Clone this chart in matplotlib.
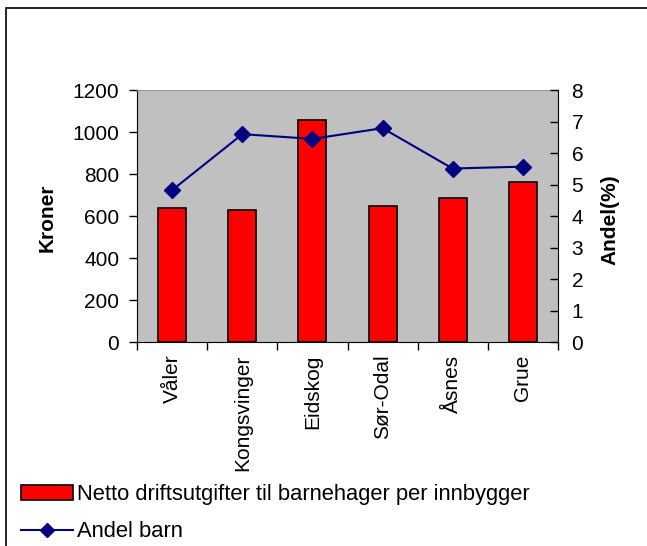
import matplotlib
matplotlib.use("Agg")
import matplotlib.pyplot as plt
from matplotlib.patches import Rectangle
from matplotlib.lines import Line2D
import numpy as np

categories = ["Våler", "Kongsvinger", "Eidskog", "Sør-Odal", "Åsnes", "Grue"]
kroner = [639, 628, 1057, 648, 687, 762]
andel = [4.83, 6.60, 6.45, 6.79, 5.51, 5.57]
bar_label = "Netto driftsutgifter til barnehager per innbygger"
line_label = "Andel barn"

plt.rcParams['font.family'] = ['Liberation Sans', 'DejaVu Sans']

W, H = 647, 546
fig = plt.figure(figsize=(W/100, H/100), dpi=100)

# outer border
fig.patches.append(Rectangle((6/W, -0.05), 1.2, 1 - 8/H + 0.05, transform=fig.transFigure,
                             fill=False, edgecolor='black', linewidth=1.2))

ax = fig.add_axes([137.3/W, 1 - 342.3/H, (557.7-137.3)/W, (342.3-90)/H])
ax.set_facecolor('#C0C0C0')
x = np.arange(len(categories))
ax.bar(x, kroner, width=0.4, color='#FF0000', edgecolor='black', linewidth=1.2, zorder=2)
ax.set_xlim(-0.5, len(categories) - 0.5)
ax.set_ylim(0, 1200)
ax.set_yticks(np.arange(0, 1201, 200))
ax.set_xticks(np.arange(-0.5, len(categories), 1.0))
ax.set_xticklabels([])
ax.set_xticks(x, minor=True)
ax.set_xticklabels(categories, minor=True, rotation=90, fontsize=15)
ax.tick_params(axis='x', which='minor', length=0, pad=9)
ax.tick_params(axis='x', which='major', length=6, direction='out', width=1)
ax.tick_params(axis='y', length=6, direction='out', labelsize=15, width=1, pad=7)
for s in ['left', 'bottom']:
    ax.spines[s].set_color('black')
ax.spines['top'].set_color('#999999')
ax.spines['right'].set_visible(False)

ax2 = ax.twinx()
ax2.plot(x, andel, color='#000080', linewidth=1.5, marker='D', markersize=8,
         markerfacecolor='#000080', markeredgecolor='#000080', zorder=3)
ax2.set_ylim(0, 8)
ax2.set_yticks(np.arange(0, 9, 1))
ax2.tick_params(axis='y', length=6, direction='in', labelsize=15, width=1, pad=10)
ax2.spines['right'].set_color('black')
ax2.spines['top'].set_visible(False)
ax2.spines['left'].set_visible(False)
ax2.spines['bottom'].set_visible(False)

fig.text(47/W, 1 - 218/H, "Kroner", rotation=90, ha='center', va='center',
         fontsize=15, fontweight='bold')
fig.text(610/W, 1 - 220/H, "Andel(%)", rotation=90, ha='center', va='center',
         fontsize=15, fontweight='bold')

handles = [Rectangle((0, 0), 1, 1, facecolor='#FF0000', edgecolor='black', linewidth=1.2),
           Line2D([0], [0], color='#000080', linewidth=1.5, marker='D', markersize=7,
                  markerfacecolor='#000080')]
fig.legend(handles, [bar_label, line_label], loc='lower left',
           bbox_to_anchor=(21/W, 4/H), frameon=False, fontsize=15.8,
           handlelength=2.37, handleheight=0.64, handletextpad=0.2, labelspacing=0.72,
           borderaxespad=0, borderpad=0)

fig.savefig("out.png", dpi=100)
